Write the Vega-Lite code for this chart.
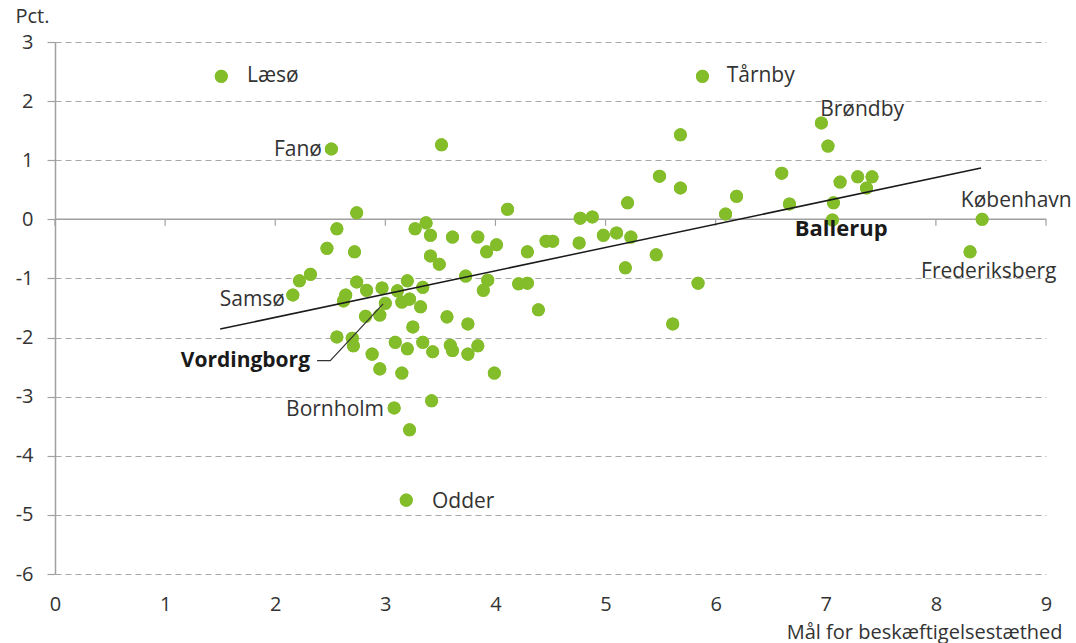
{
  "$schema": "https://vega.github.io/schema/vega-lite/v6.json",
  "width": 991,
  "height": 532,
  "autosize": {"type": "none"},
  "padding": {"left": 55, "top": 42, "right": 30, "bottom": 69},
  "background": "white",
  "config": {"view": {"stroke": null}, "font": "Open Sans"},
  "datasets": {
    "points": [
      {"name": "Læsø", "x": 1.51, "y": 2.42},
      {"name": "Tårnby", "x": 5.88, "y": 2.42},
      {"name": "Brøndby", "x": 6.96, "y": 1.63},
      {"name": "Fanø", "x": 2.51, "y": 1.19},
      {"name": "", "x": 3.51, "y": 1.26},
      {"name": "", "x": 5.68, "y": 1.43},
      {"name": "", "x": 7.02, "y": 1.24},
      {"name": "", "x": 5.49, "y": 0.73},
      {"name": "", "x": 5.68, "y": 0.53},
      {"name": "", "x": 6.6, "y": 0.78},
      {"name": "", "x": 7.13, "y": 0.63},
      {"name": "", "x": 7.29, "y": 0.72},
      {"name": "", "x": 7.42, "y": 0.72},
      {"name": "", "x": 7.37, "y": 0.53},
      {"name": "", "x": 6.19, "y": 0.39},
      {"name": "", "x": 6.67, "y": 0.26},
      {"name": "", "x": 7.07, "y": 0.28},
      {"name": "", "x": 6.09, "y": 0.09},
      {"name": "Ballerup", "x": 7.06, "y": -0.01},
      {"name": "København", "x": 8.42, "y": 0.0},
      {"name": "Frederiksberg", "x": 8.31, "y": -0.55},
      {"name": "", "x": 4.11, "y": 0.17},
      {"name": "", "x": 5.2, "y": 0.28},
      {"name": "", "x": 4.77, "y": 0.02},
      {"name": "", "x": 4.88, "y": 0.04},
      {"name": "", "x": 2.74, "y": 0.11},
      {"name": "", "x": 2.56, "y": -0.16},
      {"name": "", "x": 2.47, "y": -0.49},
      {"name": "", "x": 2.72, "y": -0.55},
      {"name": "", "x": 3.27, "y": -0.16},
      {"name": "", "x": 3.37, "y": -0.06},
      {"name": "", "x": 3.41, "y": -0.27},
      {"name": "", "x": 3.61, "y": -0.3},
      {"name": "", "x": 3.84, "y": -0.3},
      {"name": "", "x": 4.01, "y": -0.43},
      {"name": "", "x": 3.92, "y": -0.55},
      {"name": "", "x": 4.29, "y": -0.55},
      {"name": "", "x": 4.46, "y": -0.37},
      {"name": "", "x": 4.52, "y": -0.37},
      {"name": "", "x": 4.76, "y": -0.4},
      {"name": "", "x": 4.98, "y": -0.27},
      {"name": "", "x": 5.1, "y": -0.23},
      {"name": "", "x": 5.23, "y": -0.3},
      {"name": "", "x": 5.46, "y": -0.6},
      {"name": "", "x": 5.18, "y": -0.82},
      {"name": "", "x": 5.84, "y": -1.08},
      {"name": "", "x": 5.61, "y": -1.77},
      {"name": "", "x": 3.41, "y": -0.62},
      {"name": "", "x": 3.49, "y": -0.76},
      {"name": "", "x": 2.32, "y": -0.93},
      {"name": "", "x": 2.22, "y": -1.04},
      {"name": "Samsø", "x": 2.16, "y": -1.28},
      {"name": "", "x": 3.73, "y": -0.96},
      {"name": "", "x": 2.74, "y": -1.06},
      {"name": "", "x": 2.83, "y": -1.2},
      {"name": "", "x": 2.97, "y": -1.16},
      {"name": "", "x": 3.2, "y": -1.04},
      {"name": "", "x": 2.64, "y": -1.28},
      {"name": "", "x": 2.62, "y": -1.38},
      {"name": "", "x": 3.11, "y": -1.21},
      {"name": "", "x": 3.15, "y": -1.4},
      {"name": "", "x": 3.22, "y": -1.35},
      {"name": "", "x": 3.34, "y": -1.15},
      {"name": "", "x": 3.32, "y": -1.48},
      {"name": "", "x": 3.93, "y": -1.03},
      {"name": "", "x": 3.89, "y": -1.2},
      {"name": "", "x": 4.21, "y": -1.09},
      {"name": "", "x": 4.29, "y": -1.08},
      {"name": "", "x": 4.39, "y": -1.53},
      {"name": "", "x": 2.82, "y": -1.64},
      {"name": "", "x": 2.95, "y": -1.62},
      {"name": "Vordingborg", "x": 3.0, "y": -1.42},
      {"name": "", "x": 3.25, "y": -1.82},
      {"name": "", "x": 3.56, "y": -1.65},
      {"name": "", "x": 3.75, "y": -1.77},
      {"name": "", "x": 2.56, "y": -1.99},
      {"name": "", "x": 2.7, "y": -2.01},
      {"name": "", "x": 2.71, "y": -2.14},
      {"name": "", "x": 2.88, "y": -2.28},
      {"name": "", "x": 2.95, "y": -2.53},
      {"name": "", "x": 3.09, "y": -2.08},
      {"name": "", "x": 3.2, "y": -2.19},
      {"name": "", "x": 3.15, "y": -2.6},
      {"name": "", "x": 3.34, "y": -2.08},
      {"name": "", "x": 3.43, "y": -2.24},
      {"name": "", "x": 3.59, "y": -2.13},
      {"name": "", "x": 3.61, "y": -2.22},
      {"name": "", "x": 3.75, "y": -2.28},
      {"name": "", "x": 3.84, "y": -2.14},
      {"name": "", "x": 3.99, "y": -2.6},
      {"name": "", "x": 3.42, "y": -3.07},
      {"name": "Bornholm", "x": 3.08, "y": -3.19},
      {"name": "", "x": 3.22, "y": -3.56},
      {"name": "Odder", "x": 3.19, "y": -4.75}
    ],
    "trend": [
      {"x": 1.5, "y": -1.856},
      {"x": 8.41, "y": 0.868}
    ],
    "leader": [
      {"x": 2.38, "y": -2.39, "order": 1},
      {"x": 2.5, "y": -2.39, "order": 2},
      {"x": 2.98, "y": -1.43, "order": 3}
    ],
    "xticks": [
      {"x": 0}, {"x": 1}, {"x": 2}, {"x": 3}, {"x": 4}, {"x": 5}, {"x": 6}, {"x": 7}, {"x": 8}, {"x": 9}
    ],
    "labelsLeft": [
      {"name": "Læsø", "x": 1.744, "y": 2.42},
      {"name": "Tårnby", "x": 6.1, "y": 2.42},
      {"name": "Odder", "x": 3.424, "y": -4.78}
    ],
    "labelsRight": [
      {"name": "Fanø", "x": 2.425, "y": 1.17},
      {"name": "Samsø", "x": 2.089, "y": -1.37},
      {"name": "Bornholm", "x": 2.988, "y": -3.23}
    ],
    "labelsCenter": [
      {"name": "Brøndby", "x": 7.33, "y": 1.85},
      {"name": "København", "x": 8.73, "y": 0.31},
      {"name": "Frederiksberg", "x": 8.48, "y": -0.89}
    ],
    "labelsBoldCenter": [
      {"name": "Ballerup", "x": 7.14, "y": -0.17}
    ],
    "labelsBoldRight": [
      {"name": "Vordingborg", "x": 2.316, "y": -2.4}
    ]
  },
  "layer": [
    {
      "data": {"name": "points"},
      "mark": {"type": "circle", "size": 170, "color": "#84bd2a", "opacity": 1},
      "encoding": {
        "x": {
          "field": "x", "type": "quantitative", "title": "Mål for beskæftigelsestæthed",
          "scale": {"domain": [0, 9], "nice": false, "zero": false},
          "axis": {
            "values": [0, 1, 2, 3, 4, 5, 6, 7, 8, 9],
            "format": "d",
            "labelFlush": false,
            "domain": false, "ticks": false, "grid": false,
            "labelFontSize": 20, "labelFont": "Open Sans", "labelColor": "#333333", "labelPadding": 20,
            "titleFontSize": 20, "titleFont": "Open Sans", "titleFontWeight": "normal", "titleColor": "#333333",
            "titleAlign": "right", "titleX": 1007, "titleY": 58, "titleBaseline": "middle"
          }
        },
        "y": {
          "field": "y", "type": "quantitative", "title": "Pct.",
          "scale": {"domain": [-6, 3], "nice": false, "zero": false},
          "axis": {
            "values": [-6, -5, -4, -3, -2, -1, 0, 1, 2, 3],
            "labelFlush": false,
            "domain": true, "domainColor": "#a0a0a0", "domainWidth": 1.5,
            "ticks": true, "tickColor": "#a0a0a0", "tickSize": 8, "tickWidth": 1.2,
            "grid": true, "gridColor": "#a8a8a8", "gridDash": [6, 4], "gridWidth": 1.2,
            "labelFontSize": 20, "labelFont": "Open Sans", "labelColor": "#333333", "labelPadding": 14,
            "labelExpr": "'' + datum.value",
            "titleFontSize": 20, "titleFont": "Open Sans", "titleFontWeight": "normal", "titleColor": "#333333",
            "titleAngle": 0, "titleX": -40, "titleY": -26, "titleAlign": "left", "titleBaseline": "middle"
          }
        }
      }
    },
    {
      "data": {"values": [{"a": 1}]},
      "mark": {"type": "rule", "color": "#a0a0a0", "strokeWidth": 1.5},
      "encoding": {
        "x": {"datum": 0, "type": "quantitative", "title": "Mål for beskæftigelsestæthed"},
        "x2": {"datum": 9},
        "y": {"datum": 0, "type": "quantitative", "title": "Pct."}
      }
    },
    {
      "data": {"name": "xticks"},
      "mark": {"type": "rule", "color": "#a0a0a0", "strokeWidth": 1.2},
      "encoding": {
        "x": {"field": "x", "type": "quantitative", "title": "Mål for beskæftigelsestæthed"},
        "y": {"datum": 0, "type": "quantitative", "title": "Pct."},
        "y2": {"datum": -0.11}
      }
    },
    {
      "data": {"name": "points"},
      "mark": {"type": "circle", "size": 170, "color": "#84bd2a", "opacity": 1},
      "encoding": {
        "x": {"field": "x", "type": "quantitative", "title": "Mål for beskæftigelsestæthed"},
        "y": {"field": "y", "type": "quantitative", "title": "Pct."}
      }
    },
    {
      "data": {"name": "trend"},
      "mark": {"type": "line", "color": "#1a1a1a", "strokeWidth": 1.5},
      "encoding": {
        "x": {"field": "x", "type": "quantitative", "title": "Mål for beskæftigelsestæthed"},
        "y": {"field": "y", "type": "quantitative", "title": "Pct."}
      }
    },
    {
      "data": {"name": "leader"},
      "mark": {"type": "line", "color": "#333333", "strokeWidth": 1.2},
      "encoding": {
        "x": {"field": "x", "type": "quantitative", "title": "Mål for beskæftigelsestæthed"},
        "y": {"field": "y", "type": "quantitative", "title": "Pct."},
        "order": {"field": "order", "type": "quantitative"}
      }
    },
    {
      "data": {"name": "labelsLeft"},
      "mark": {"type": "text", "align": "left", "baseline": "middle", "fontSize": 21, "font": "Open Sans", "color": "#333333"},
      "encoding": {
        "x": {"field": "x", "type": "quantitative", "title": "Mål for beskæftigelsestæthed"},
        "y": {"field": "y", "type": "quantitative", "title": "Pct."},
        "text": {"field": "name"}
      }
    },
    {
      "data": {"name": "labelsRight"},
      "mark": {"type": "text", "align": "right", "baseline": "middle", "fontSize": 21, "font": "Open Sans", "color": "#333333"},
      "encoding": {
        "x": {"field": "x", "type": "quantitative", "title": "Mål for beskæftigelsestæthed"},
        "y": {"field": "y", "type": "quantitative", "title": "Pct."},
        "text": {"field": "name"}
      }
    },
    {
      "data": {"name": "labelsCenter"},
      "mark": {"type": "text", "align": "center", "baseline": "middle", "fontSize": 21, "font": "Open Sans", "color": "#333333"},
      "encoding": {
        "x": {"field": "x", "type": "quantitative", "title": "Mål for beskæftigelsestæthed"},
        "y": {"field": "y", "type": "quantitative", "title": "Pct."},
        "text": {"field": "name"}
      }
    },
    {
      "data": {"name": "labelsBoldCenter"},
      "mark": {"type": "text", "align": "center", "baseline": "middle", "fontSize": 22, "font": "Open Sans", "fontWeight": "bold", "color": "#1a1a1a"},
      "encoding": {
        "x": {"field": "x", "type": "quantitative", "title": "Mål for beskæftigelsestæthed"},
        "y": {"field": "y", "type": "quantitative", "title": "Pct."},
        "text": {"field": "name"}
      }
    },
    {
      "data": {"name": "labelsBoldRight"},
      "mark": {"type": "text", "align": "right", "baseline": "middle", "fontSize": 21, "font": "Open Sans", "fontWeight": "bold", "color": "#1a1a1a"},
      "encoding": {
        "x": {"field": "x", "type": "quantitative", "title": "Mål for beskæftigelsestæthed"},
        "y": {"field": "y", "type": "quantitative", "title": "Pct."},
        "text": {"field": "name"}
      }
    }
  ]
}
